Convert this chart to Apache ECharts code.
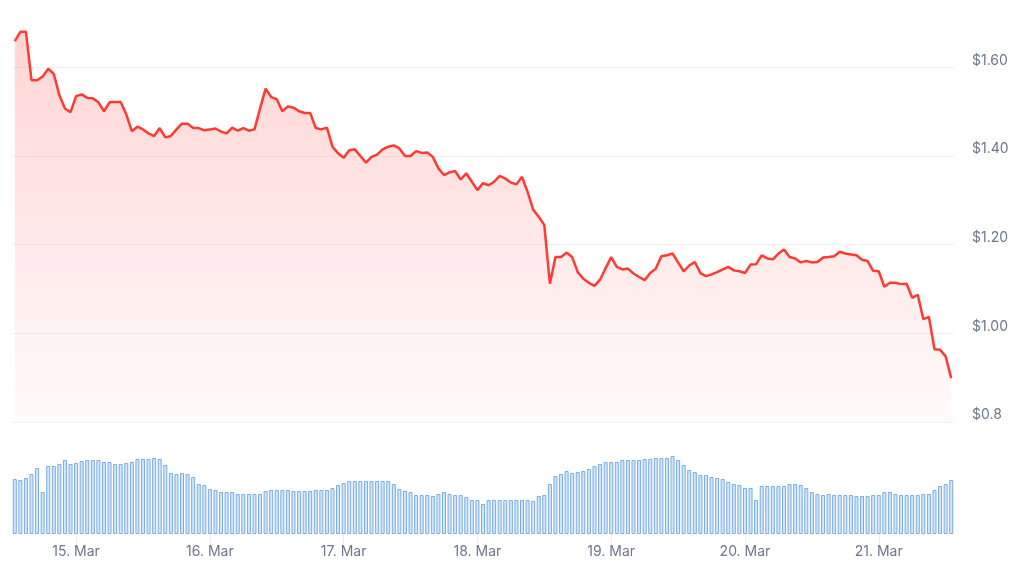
<!DOCTYPE html>
<html>
<head>
<meta charset="utf-8">
<script src="https://cdn.jsdelivr.net/npm/echarts@6/dist/echarts.min.js"></script>
<style>
html,body{margin:0;padding:0;background:#fff;}
#chart{width:1024px;height:576px;}
</style>
</head>
<body>
<div id="chart"></div>
<script>
// Hourly points, starting 14 Mar 13:00
const startDay = 14;
const startHour = 13;
const monthName = 'Mar';

const price = [
1.659,1.680,1.680,1.571,1.571,1.579,1.597,1.585,1.537,1.507,
1.499,1.535,1.539,1.531,1.530,1.521,1.501,1.521,1.522,1.522,
1.494,1.456,1.466,1.460,1.451,1.445,1.463,1.442,1.445,1.460,
1.473,1.473,1.463,1.463,1.458,1.460,1.462,1.455,1.451,1.464,
1.457,1.463,1.457,1.460,1.507,1.552,1.533,1.528,1.501,1.512,
1.509,1.501,1.497,1.497,1.463,1.460,1.464,1.421,1.406,1.396,
1.413,1.415,1.400,1.385,1.398,1.403,1.415,1.421,1.424,1.417,
1.400,1.400,1.411,1.407,1.408,1.398,1.372,1.357,1.363,1.366,
1.347,1.361,1.342,1.323,1.339,1.334,1.342,1.355,1.349,1.340,
1.336,1.353,1.319,1.279,1.263,1.244,1.112,1.172,1.172,1.182,
1.172,1.138,1.123,1.114,1.107,1.121,1.147,1.172,1.150,1.144,
1.146,1.135,1.127,1.120,1.136,1.146,1.174,1.176,1.180,1.160,
1.140,1.153,1.161,1.136,1.129,1.133,1.138,1.144,1.150,1.142,
1.140,1.136,1.155,1.156,1.176,1.169,1.167,1.180,1.189,1.172,
1.169,1.160,1.163,1.160,1.161,1.171,1.172,1.174,1.184,1.180,
1.178,1.176,1.166,1.163,1.141,1.140,1.105,1.114,1.114,1.111,
1.112,1.080,1.087,1.032,1.037,0.964,0.963,0.948,0.899
];

const volume = [
55,54,56,60,66,42,68,68,70,74,
70,71,73,74,74,74,72,72,70,70,
71,72,75,75,75,76,75,69,61,60,
61,60,57,50,49,45,44,42,42,42,
40,40,40,40,40,43,44,44,44,44,
43,43,43,43,44,44,44,46,49,51,
53,53,53,53,53,53,53,53,50,45,
43,42,39,39,39,38,40,42,40,39,
39,37,34,34,30,34,34,34,34,34,
34,34,34,33,38,39,50,58,60,63,
61,62,63,65,68,70,72,72,72,74,
74,74,74,75,75,76,76,76,78,74,
69,64,62,59,59,57,56,55,52,50,
49,46,46,34,48,48,48,48,48,50,
50,49,46,42,40,39,40,39,39,39,
39,38,38,38,39,39,42,42,40,39,
39,39,39,40,40,44,48,50,54
];

const priceTicks = [0.8, 1.0, 1.2, 1.4, 1.6];
const priceTickLabels = ['$0.8', '$1.00', '$1.20', '$1.40', '$1.60'];

// category names: "D. Mar HH:00"
const categories = price.map(function (_, i) {
  const h = startHour + i;
  const day = startDay + Math.floor(h / 24);
  const hh = h % 24;
  return day + '. ' + monthName + ' ' + (hh < 10 ? '0' : '') + hh + ':00';
});
const isMidnight = function (idx, val) { return / 00:00$/.test(categories[idx]); };

const textColor = '#6c778a';
const gridColor = '#eff0f3';
const fontFamily = 'Inter, "Noto Sans", sans-serif';
const gridL = 12, gridR = 70;

const chart = echarts.init(document.getElementById('chart'), null, {renderer: 'canvas'});
chart.setOption({
  animation: false,
  backgroundColor: '#ffffff',
  grid: [
    {left: gridL, right: gridR, top: 23, bottom: 154},
    {left: gridL, right: gridR, top: 440, bottom: 42}
  ],
  xAxis: [
    {
      type: 'category', gridIndex: 0, data: categories, boundaryGap: true,
      axisLine: {show: false}, axisTick: {show: false}, axisLabel: {show: false},
      splitLine: {show: false}
    },
    {
      type: 'category', gridIndex: 1, data: categories, boundaryGap: true,
      axisLine: {show: false},
      axisTick: {show: true, alignWithLabel: true, interval: isMidnight, length: 10,
                 lineStyle: {color: '#eceef2', width: 1}},
      axisLabel: {
        interval: isMidnight, margin: 11, color: textColor, fontSize: 14,
        fontFamily: fontFamily,
        formatter: function (v) { return v.replace(/ \d\d:00$/, ''); }
      },
      splitLine: {show: false}
    }
  ],
  yAxis: [
    {
      type: 'value', gridIndex: 0, position: 'right',
      min: 0.8, max: 1.7, interval: 0.2,
      axisLine: {show: false}, axisTick: {show: false},
      axisLabel: {
        margin: 18, color: textColor, fontSize: 14, fontFamily: fontFamily,
        align: 'left', verticalAlign: 'bottom', padding: [0, 0, 0, 0],
        showMaxLabel: false,
        formatter: function (v) {
          for (let k = 0; k < priceTicks.length; k++) {
            if (Math.abs(priceTicks[k] - v) < 1e-6) return priceTickLabels[k];
          }
          return '';
        }
      },
      splitLine: {show: true, lineStyle: {
        color: [gridColor, gridColor, gridColor, gridColor, gridColor, 'rgba(0,0,0,0)'],
        width: 1}}
    },
    {
      type: 'value', gridIndex: 1, min: 0, max: 94,
      axisLine: {show: false}, axisTick: {show: false}, axisLabel: {show: false},
      splitLine: {show: false}
    }
  ],
  series: [
    {
      type: 'line', xAxisIndex: 0, yAxisIndex: 0, data: price,
      showSymbol: false, symbol: 'none', clip: false,
      lineStyle: {color: '#ff3a33', width: 2.5},
      itemStyle: {color: '#ff3a33'},
      areaStyle: {
        origin: 'start',
        color: new echarts.graphic.LinearGradient(0, 0, 0, 1, [
          {offset: 0, color: 'rgba(255,58,51,0.30)'},
          {offset: 1, color: 'rgba(255,58,51,0.03)'}
        ])
      }
    },
    {
      type: 'bar', xAxisIndex: 1, yAxisIndex: 1, data: volume,
      barWidth: '72%',
      itemStyle: {color: '#d3e5f9', borderColor: '#78ade8', borderWidth: 1}
    }
  ]
});
</script>
</body>
</html>
